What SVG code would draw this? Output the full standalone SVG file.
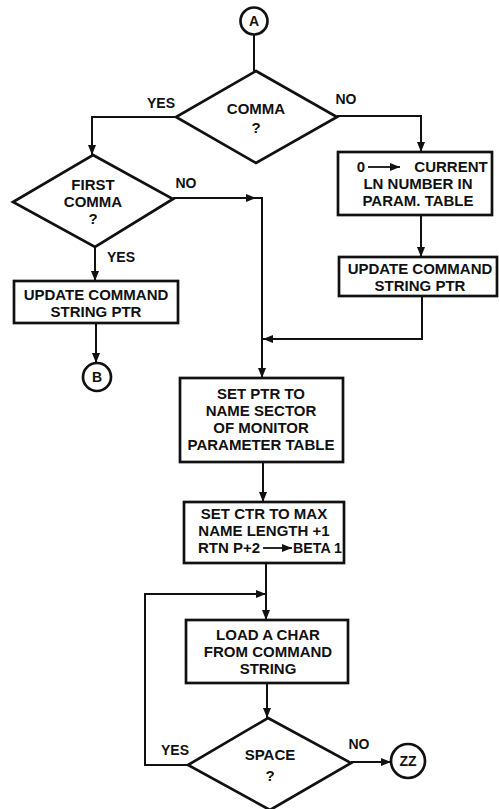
<svg xmlns="http://www.w3.org/2000/svg" width="499" height="809" viewBox="0 0 499 809">
  <defs>
    <style>
      .shape { fill: #fff; stroke: #111; stroke-width: 2.7; stroke-linejoin: miter; }
      .wire { fill: none; stroke: #111; stroke-width: 2; }
      .lbl { font-family: "Liberation Sans", Arial, sans-serif; font-weight: bold; font-size: 15px; fill: #111; text-anchor: middle; }
      .tag { font-family: "Liberation Sans", Arial, sans-serif; font-weight: bold; font-size: 14px; fill: #111; text-anchor: middle; }
    </style>
    <marker id="arrow" markerUnits="userSpaceOnUse" markerWidth="10" markerHeight="10" viewBox="0 0 10 10" refX="10" refY="5" orient="auto">
      <path d="M0,1 L10,5 L0,9 Z" fill="#111"/>
    </marker>
  </defs>

  <rect x="0" y="0" width="499" height="809" fill="#fff"/>

  <!-- connectors -->
  <g id="connectors">
    <path class="wire" d="M254,35 V71"/>
    <path class="wire" d="M176,117 H92 V155" marker-end="url(#arrow)"/>
    <path class="wire" d="M337,116 H421 V152" marker-end="url(#arrow)"/>
    <path class="wire" d="M173,198 H256" marker-end="url(#arrow)"/>
    <path class="wire" d="M254,198 H262 V378" marker-end="url(#arrow)"/>
    <path class="wire" d="M95,247 V281" marker-end="url(#arrow)"/>
    <path class="wire" d="M96,323 V363" marker-end="url(#arrow)"/>
    <path class="wire" d="M421,215 V257" marker-end="url(#arrow)"/>
    <path class="wire" d="M422,296 V339 H263" marker-end="url(#arrow)"/>
    <path class="wire" d="M263,462 V502" marker-end="url(#arrow)"/>
    <path class="wire" d="M266,563 V620" marker-end="url(#arrow)"/>
    <path class="wire" d="M188,765 H145 V594 H266" marker-end="url(#arrow)"/>
    <path class="wire" d="M267,683 V718" marker-end="url(#arrow)"/>
    <path class="wire" d="M351,762 H391" marker-end="url(#arrow)"/>

    <text class="tag" x="161" y="108">YES</text>
    <text class="tag" x="346" y="104">NO</text>
    <text class="tag" x="186" y="188">NO</text>
    <text class="tag" x="121" y="262">YES</text>
    <text class="tag" x="175" y="755">YES</text>
    <text class="tag" x="359" y="749">NO</text>
  </g>

  <!-- entry connector A -->
  <g id="conn-a">
    <circle class="shape" cx="254" cy="21" r="13.5"/>
    <text class="tag" x="254" y="26">A</text>
  </g>

  <!-- decision: comma -->
  <g id="dec-comma">
    <polygon class="shape" points="256,71 337,117 256,163 176,117"/>
    <text class="lbl" x="256" y="114">COMMA</text>
    <text class="lbl" x="256" y="133">?</text>
  </g>

  <!-- decision: first comma -->
  <g id="dec-first">
    <polygon class="shape" points="93,155 173,199 95,247 13,202"/>
    <text class="lbl" x="93" y="190">FIRST</text>
    <text class="lbl" x="93" y="207">COMMA</text>
    <text class="lbl" x="93" y="224">?</text>
  </g>

  <!-- update pointer (left branch) -->
  <g id="box-update-left">
    <rect class="shape" x="14" y="281" width="164" height="42"/>
    <text class="lbl" x="96" y="300">UPDATE COMMAND</text>
    <text class="lbl" x="96" y="317">STRING PTR</text>
  </g>

  <!-- exit connector B -->
  <g id="conn-b">
    <circle class="shape" cx="97" cy="377" r="14"/>
    <text class="tag" x="97" y="382">B</text>
  </g>

  <!-- clear current line number -->
  <g id="box-clear-ln">
    <rect class="shape" x="338" y="152" width="154" height="63"/>
    <text class="lbl" x="361" y="172">0</text>
    <line x1="368" y1="167" x2="400" y2="167" stroke="#111" stroke-width="1.8" marker-end="url(#arrow)"/>
    <text class="lbl" x="451" y="172">CURRENT</text>
    <text class="lbl" x="418" y="189">LN NUMBER IN</text>
    <text class="lbl" x="418" y="206">PARAM. TABLE</text>
  </g>

  <!-- update pointer (right branch) -->
  <g id="box-update-right">
    <rect class="shape" x="339" y="257" width="158" height="39"/>
    <text class="lbl" x="420" y="274">UPDATE COMMAND</text>
    <text class="lbl" x="420" y="291">STRING PTR</text>
  </g>

  <!-- set pointer to name sector -->
  <g id="box-set-ptr">
    <rect class="shape" x="180" y="378" width="163" height="84"/>
    <text class="lbl" x="261" y="399">SET PTR TO</text>
    <text class="lbl" x="261" y="416">NAME SECTOR</text>
    <text class="lbl" x="261" y="433">OF MONITOR</text>
    <text class="lbl" x="261" y="450">PARAMETER TABLE</text>
  </g>

  <!-- set counter -->
  <g id="box-set-ctr">
    <rect class="shape" x="184" y="502" width="160" height="61"/>
    <text class="lbl" x="264" y="519">SET CTR TO MAX</text>
    <text class="lbl" x="264" y="536">NAME LENGTH +1</text>
    <text class="lbl" x="260" y="553" style="text-anchor:end">RTN P+2</text>
    <line x1="263" y1="548" x2="292" y2="548" stroke="#111" stroke-width="1.8" marker-end="url(#arrow)"/>
    <text class="lbl" x="293" y="553" style="text-anchor:start" textLength="49" lengthAdjust="spacingAndGlyphs">BETA 1</text>
  </g>

  <!-- load a character -->
  <g id="box-load">
    <rect class="shape" x="186" y="620" width="162" height="63"/>
    <text class="lbl" x="268" y="640">LOAD A CHAR</text>
    <text class="lbl" x="268" y="657">FROM COMMAND</text>
    <text class="lbl" x="268" y="674">STRING</text>
  </g>

  <!-- decision: space -->
  <g id="dec-space">
    <polygon class="shape" points="268,718 351,763 270,810 188,765"/>
    <text class="lbl" x="270" y="760">SPACE</text>
    <text class="lbl" x="270" y="781">?</text>
  </g>

  <!-- exit connector ZZ -->
  <g id="conn-zz">
    <circle class="shape" cx="408" cy="761" r="17"/>
    <text class="tag" x="408" y="766">ZZ</text>
  </g>
</svg>
